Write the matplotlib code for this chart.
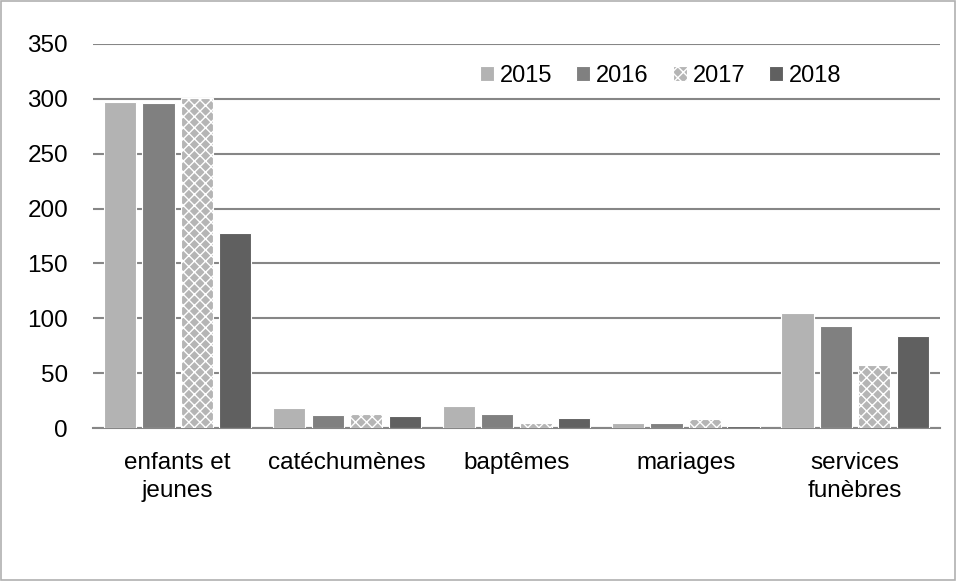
import matplotlib.pyplot as plt
from matplotlib.patches import Rectangle
import numpy as np

categories = ["enfants et\njeunes", "catéchumènes", "baptêmes", "mariages", "services\nfunèbres"]
years = ["2015", "2016", "2017", "2018"]
v2015 = [297, 18, 20, 5, 105]
v2016 = [296, 12, 13, 5, 93]
v2017 = [301, 13, 5, 8, 57]
v2018 = [178, 11, 9, 2, 84]

series = [v2015, v2016, v2017, v2018]
colors = ["#b3b3b3", "#808080", "#b5b5b5", "#606060"]
hatches = [None, None, "xxx", None]

plt.rcParams['font.family'] = ['Liberation Sans', 'DejaVu Sans']
plt.rcParams['hatch.color'] = '#5a5a5a'
plt.rcParams['hatch.linewidth'] = 1.0

fig = plt.figure(figsize=(9.57, 5.81), dpi=100)
ax = fig.add_axes([0.0972, 0.2633, 0.8848, 0.661])

x = np.arange(len(categories))
step = 0.227
width = 0.19
for i, vals in enumerate(series):
    ax.bar(x + (i - 1.5) * step, vals, width, color=colors[i], hatch=hatches[i],
           edgecolor="white", linewidth=0.8, label=years[i], zorder=3)

ax.set_xlim(-0.5, 4.5)
ax.set_ylim(0, 350)
ax.set_yticks(range(0, 351, 50))
ax.yaxis.grid(True, color="#868686", linewidth=1.5, zorder=0)
ax.set_xticks(x)
ax.set_xticklabels(categories, fontsize=17.5, linespacing=1.35)
ax.tick_params(axis="both", length=0, labelsize=17.5)
ax.tick_params(axis="y", pad=18)
ax.tick_params(axis="x", pad=17)
for s in ["top", "right", "left"]:
    ax.spines[s].set_visible(False)
ax.spines["bottom"].set_color("#868686")
ax.spines["bottom"].set_linewidth(1.5)

ax.legend(ncol=4, loc="upper right", bbox_to_anchor=(0.909, 1.0), frameon=False,
          fontsize=17, handlelength=0.6, handleheight=0.6, handletextpad=0.25,
          columnspacing=1.0)

fig.patches.append(Rectangle((0.001, 0.001), 0.997, 0.997, transform=fig.transFigure,
                             fill=False, edgecolor="#b0b0b0", linewidth=1.2))

fig.savefig("out.png", dpi=100)
